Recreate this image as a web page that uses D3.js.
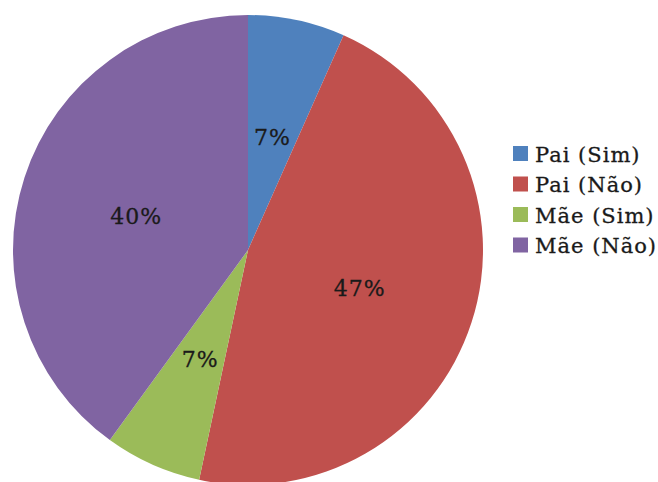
<!DOCTYPE html>
<html>
<head>
<meta charset="utf-8">
<script src="https://cdn.jsdelivr.net/npm/d3@7"></script>
<style>
  body { margin: 0; background: #fff; }
</style>
</head>
<body>
<div id="chart"></div>
<script>
// data
var categories = ["Pai (Sim)", "Pai (Não)", "Mãe (Sim)", "Mãe (Não)"];
var counts = [1, 7, 1, 6];
var colors = ["#4F81BD", "#C0504D", "#9BBB59", "#8064A2"];

var width = 658, height = 482;
var cx = 248, cy = 250, radius = 235;
var font = "'DejaVu Serif', 'Liberation Serif', serif";

var svg = d3.select("#chart").append("svg")
    .attr("width", width)
    .attr("height", height);

var data = categories.map((c, i) => ({ name: c, value: counts[i], color: colors[i] }));
var total = d3.sum(counts);

var pie = d3.pie().sort(null).value(d => d.value);
var arc = d3.arc().innerRadius(0).outerRadius(radius);
var labelArc = d3.arc().innerRadius(radius * 0.5).outerRadius(radius * 0.5);

var g = svg.append("g").attr("transform", `translate(${cx}, ${cy})`);

g.selectAll("path")
    .data(pie(data))
    .enter()
    .append("path")
    .attr("d", arc)
    .attr("fill", d => d.data.color);

g.selectAll(".lbl")
    .data(pie(data))
    .enter()
    .append("text")
    .attr("class", "lbl")
    .attr("transform", d => `translate(${labelArc.centroid(d)})`)
    .attr("text-anchor", "middle")
    .attr("dy", "0.45em")
    .attr("font-family", font)
    .style("font-size", "22px")
    .style("letter-spacing", "1px")
    .style("fill", "#1a1a1a")
    .style("stroke", "#1a1a1a")
    .style("stroke-width", 0.3)
    .text(d => Math.round(d.data.value / total * 100) + "%");

// legend
var legend = svg.append("g").attr("transform", "translate(513, 146)");
var rows = legend.selectAll("g")
    .data(data)
    .enter()
    .append("g")
    .attr("transform", (d, i) => `translate(0, ${i * 30.5})`);

rows.append("rect")
    .attr("width", 15)
    .attr("height", 15)
    .attr("fill", d => d.color);

rows.append("text")
    .attr("x", 22)
    .attr("y", 8)
    .attr("dy", "0.38em")
    .attr("font-family", font)
    .style("font-size", "21px")
    .style("letter-spacing", "1px")
    .style("fill", "#1a1a1a")
    .style("stroke", "#1a1a1a")
    .style("stroke-width", 0.3)
    .text(d => d.name);
</script>
</body>
</html>
